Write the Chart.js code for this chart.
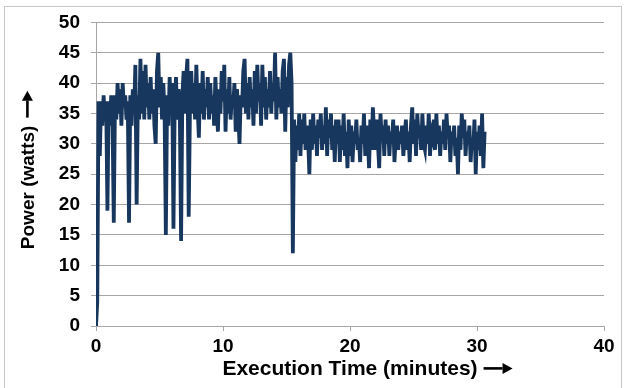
<!DOCTYPE html>
<html>
<head>
<meta charset="utf-8">
<script src="https://cdn.jsdelivr.net/npm/chart.js@4"></script>
<style>
  body { margin: 0; background: #fff; }
  #powerChart { display: block; }
</style>
</head>
<body>
<canvas id="powerChart" width="626" height="388"></canvas>
<script>
// sampling interval of the trace (minutes)
var sampleStep = 0.1;

// phase 1: start-up and full load, t = 0.0 .. 15.4 min
var phase1Start = 0;
var phase1Watts = [
  0, 4, 37, 28, 37, 33, 38, 34, 37, 19,
  37, 33, 38, 34, 17, 38, 34, 40, 35, 39,
  33, 40, 36, 38, 34, 37, 17, 38, 33, 39,
  35, 43, 20, 38, 34, 44, 35, 42, 34, 43,
  36, 40, 34, 41, 35, 39, 33, 30, 42, 45,
  36, 41, 34, 40, 35, 15, 38, 33, 41, 35,
  40, 16, 37, 41, 34, 39, 35, 14, 38, 42,
  35, 41, 44, 18, 36, 42, 35, 40, 34, 43,
  36, 31, 40, 35, 42, 34, 39, 36, 41, 34,
  40, 35, 38, 33, 41, 36, 32, 39, 35, 42,
  37, 43, 32, 39, 35, 41, 34, 38, 36, 40,
  32, 39, 35, 30, 38, 36, 42, 44, 35, 40,
  34, 41, 36, 39, 33, 42, 35, 43, 37, 40,
  33, 43, 36, 41, 34, 39, 36, 42, 35, 40,
  37, 45, 34, 41, 36, 39, 35, 42, 44, 32,
  41, 36, 43, 45, 40
];

// phase 2: reduced load, t = 15.5 .. 30.6 min
var phase2Start = 15.5;
var phase2Watts = [
  12, 34, 27, 33, 29,
  35, 28, 34, 30, 35, 29, 33, 31, 25, 34,
  29, 35, 30, 33, 28, 34, 31, 35, 29, 33,
  30, 36, 28, 34, 31, 35, 29, 33, 27, 34,
  30, 34, 27, 33, 29, 35, 28, 32, 26, 34,
  28, 33, 27, 32, 30, 34, 29, 31, 27, 33,
  30, 35, 28, 33, 31, 26, 34, 29, 36, 32,
  29, 34, 30, 26, 35, 31, 33, 28, 34, 30,
  33, 28, 32, 30, 34, 27, 31, 33, 29, 32,
  30, 33, 28, 31, 34, 29, 32, 27, 33, 36,
  30, 34, 28, 35, 31, 33, 29, 35, 30, 29,
  33, 30, 35, 28, 32, 31, 34, 29, 35, 30,
  33, 28, 32, 30, 34, 29, 35, 31, 33, 27,
  32, 30, 33, 28, 31, 25, 33, 29, 35, 31,
  34, 28, 32, 30, 33, 27, 31, 29, 34, 25,
  32, 29, 33, 28, 35, 26, 32
];

var xTickLabels = [0, 10, 20, 30, 40];
var yTickLabels = [0, 5, 10, 15, 20, 25, 30, 35, 40, 45, 50];

//turn the sample lists into x/y points
var points = [];
phase1Watts.forEach(function(w, i){
  points.push({x: phase1Start + i * sampleStep, y: w});
});
phase2Watts.forEach(function(w, i){
  points.push({x: phase2Start + i * sampleStep, y: w});
});

var fontFamily = "'Liberation Sans', Arial, sans-serif";
var axisGrey = '#a6a6a6';
var yTitleGap = '     '; // room left above the y title for its arrow

//thin frame round the whole chart, like the spreadsheet chart area
var framePlugin = {
  id: 'frame',
  beforeDraw: function(chart){
    var ctx = chart.ctx;
    ctx.save();
    ctx.strokeStyle = '#c8c8c8';
    ctx.lineWidth = 1;
    ctx.strokeRect(4.5, 6.5, 617, 400);
    ctx.restore();
  }
};

//the bold arrows that follow both axis titles
function drawArrow(ctx, x0, y0, x1, y1){
  var ang = Math.atan2(y1 - y0, x1 - x0);
  var head = 10, half = 5.5;
  var bx = x1 - head * Math.cos(ang), by = y1 - head * Math.sin(ang);
  ctx.beginPath();
  ctx.moveTo(x0, y0);
  ctx.lineTo(bx, by);
  ctx.stroke();
  ctx.beginPath();
  ctx.moveTo(x1, y1);
  ctx.lineTo(bx + half * Math.sin(ang), by - half * Math.cos(ang));
  ctx.lineTo(bx - half * Math.sin(ang), by + half * Math.cos(ang));
  ctx.closePath();
  ctx.fill();
}

var arrowPlugin = {
  id: 'titleArrows',
  afterDraw: function(chart){
    var ctx = chart.ctx;
    var area = chart.chartArea;
    var xs = chart.scales.x, ys = chart.scales.y;
    ctx.save();
    ctx.strokeStyle = '#000';
    ctx.fillStyle = '#000';
    ctx.lineWidth = 2.6;

    ctx.font = 'bold ' + xs.options.title.font.size + 'px ' + fontFamily;
    var xw = ctx.measureText(xs.options.title.text).width;
    var xMid = (area.left + area.right) / 2;
    var xLine = xs.bottom - 6 - xs.options.title.font.size * 0.6 - 1;
    drawArrow(ctx, xMid + xw / 2 + 6, xLine, xMid + xw / 2 + 35, xLine);

    ctx.font = 'bold ' + ys.options.title.font.size + 'px ' + fontFamily;
    var yw = ctx.measureText(ys.options.title.text).width;
    var gw = ctx.measureText(yTitleGap).width;
    var yMid = (area.top + area.bottom) / 2;
    var textTop = yMid - yw / 2 + gw;
    var yLine = ys.left + 17 + ys.options.title.font.size * 0.6 - 1;
    drawArrow(ctx, yLine, textTop - 8, yLine, textTop - 35);
    ctx.restore();
  }
};

function fixTicks(values){
  return function(scale){
    scale.ticks = values.map(function(v){ return {value: v}; });
  };
}

var ctx = document.getElementById('powerChart');
var powerChart = new Chart(ctx, {
  type: 'line',
  data: {
    datasets: [{
      label: 'Power',
      data: points,
      borderColor: '#17375e',
      backgroundColor: '#17375e',
      borderWidth: 3.8,
      pointRadius: 0,
      tension: 0,
      fill: false
    }]
  },
  options: {
    responsive: false,
    animation: false,
    devicePixelRatio: 1,
    layout: { padding: { left: 0, right: 22, top: 21, bottom: 0 } },
    plugins: {
      legend: { display: false },
      tooltip: { enabled: false }
    },
    scales: {
      x: {
        type: 'linear',
        min: 0,
        max: 40,
        afterBuildTicks: fixTicks(xTickLabels),
        afterFit: function(scale){ scale.height = 62; },
        grid: { drawOnChartArea: false, tickColor: axisGrey, tickLength: 5 },
        border: { display: true, color: axisGrey, width: 1 },
        ticks: {
          color: '#000',
          padding: 4,
          maxRotation: 0,
          font: { family: fontFamily, size: 19, weight: 'bold' }
        },
        title: {
          display: true,
          text: 'Execution Time (minutes)',
          color: '#000',
          padding: { top: 0, bottom: 6 },
          font: { family: fontFamily, size: 21, weight: 'bold' }
        }
      },
      y: {
        min: 0,
        max: 50,
        afterBuildTicks: fixTicks(yTickLabels),
        afterFit: function(scale){ scale.width = 96; },
        grid: { color: axisGrey, tickColor: axisGrey, tickLength: 5, lineWidth: 1 },
        border: { display: true, color: axisGrey, width: 1 },
        ticks: {
          color: '#000',
          padding: 11,
          font: { family: fontFamily, size: 19, weight: 'bold' }
        },
        title: {
          display: true,
          text: 'Power (watts)' + yTitleGap,
          color: '#000',
          padding: { top: 17, bottom: 0 },
          font: { family: fontFamily, size: 19, weight: 'bold' }
        }
      }
    }
  },
  plugins: [framePlugin, arrowPlugin]
});
</script>
</body>
</html>
